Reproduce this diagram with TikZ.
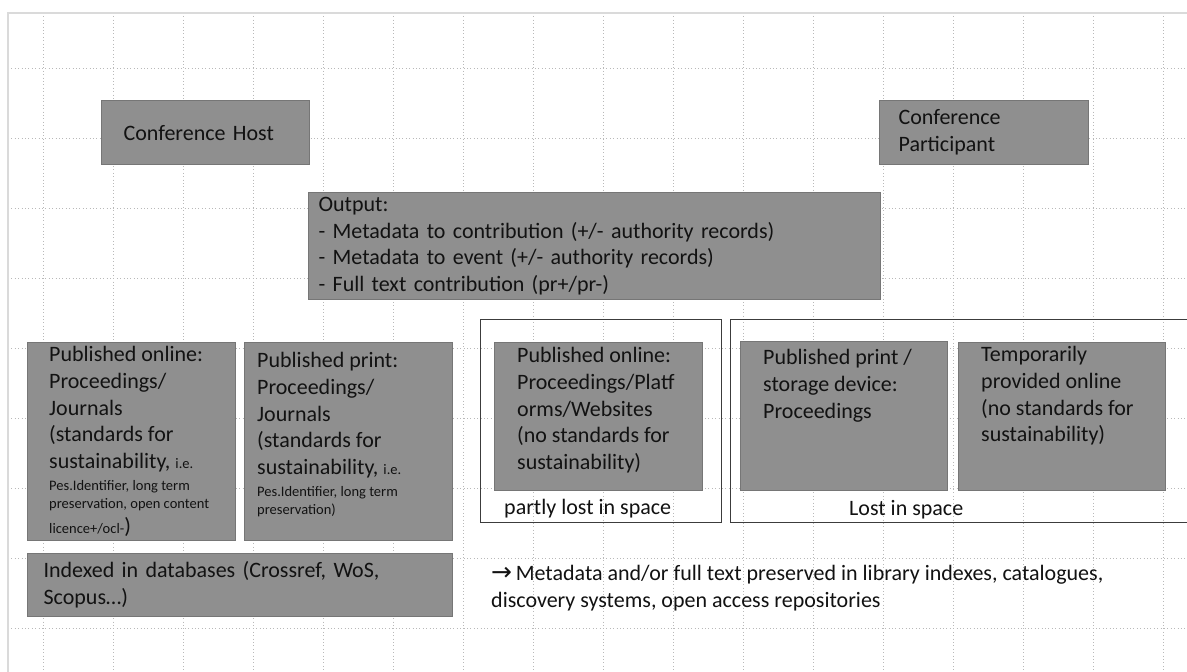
\documentclass[tikz,border=0pt]{standalone}
\usepackage{fontspec}
\setmainfont{Carlito}
\newfontfamily\arrowfont{DejaVu Sans}
\usepackage{xcolor}
\usepackage{tikz}
\usetikzlibrary{positioning}

\definecolor{boxfill}{RGB}{143,143,143}
\definecolor{boxline}{RGB}{118,118,118}
\definecolor{frameline}{RGB}{60,60,60}
\definecolor{ink}{RGB}{18,18,18}
\definecolor{gridgray}{RGB}{185,185,185}
\definecolor{slideedge}{RGB}{218,218,218}

\newcommand{\boxfont}{\fontsize{22}{26.8}\selectfont}
\newcommand{\notefont}{\fontsize{14.5}{18}\selectfont}

\begin{document}
\begin{tikzpicture}[
    x=1pt, y=-1pt,
    font=\boxfont, text=ink,
    greybox/.style={rectangle, draw=boxline, fill=boxfill, line width=1.2pt, inner sep=0pt, anchor=north west},
    labelbox/.style={greybox, align=left},
    spaceframe/.style={rectangle, draw=frameline, line width=1pt, inner sep=0pt, anchor=north west},
    boxtext/.style={align=left, inner sep=0pt},
    gridline/.style={gridgray, line width=0.6pt, dash pattern=on 0.8pt off 2.6pt}
]

% Slide and grid
\useasboundingbox (0,0) rectangle (1187,672);
\fill[white] (0,0) rectangle (1187,672);
\foreach \gx in {43,113,...,1163} \draw[gridline] (\gx,13) -- (\gx,672);
\foreach \gy in {68,138,...,628} \draw[gridline] (8,\gy) -- (1187,\gy);
\draw[slideedge, line width=1.5pt] (8,672) -- (8,13) -- (1187,13);

% Host and participant
\node[labelbox, text width=164pt, inner xsep=22pt, minimum height=64pt] (host) at (101,100) {Conference Host};
\node[labelbox, text width=171pt, inner xsep=19pt, minimum height=64pt] (participant) at (879,100) {Conference\\ Participant};

% Output of the conference
\node[labelbox, text width=552pt, inner xsep=10pt, minimum height=107pt] (output) at (308,192) {Output:\\ - Metadata to contribution (+/- authority records)\\ - Metadata to event (+/- authority records)\\ - Full text contribution (pr+/pr-)};

% Published with standards
\node[greybox, minimum width=208pt, minimum height=198pt] (online) at (27,342) {};
\node[boxtext, below right=4pt and 22pt of online.north west] (onlinetext) {Published online:\\ Proceedings/\\ Journals\\ (standards for\\ sustainability, {\notefont i.e.}\\[-5pt] {\notefont Pes.Identifier, long term}\\[-9pt] {\notefont preservation, open content}\\[-2pt] {\notefont licence+/ocl-})};
\node[greybox, minimum width=208pt, minimum height=198pt] (print) at (244,342) {};
\node[boxtext, below right=10pt and 13pt of print.north west] (printtext) {Published print:\\ Proceedings/\\ Journals\\ (standards for\\ sustainability, {\notefont i.e.}\\[-5pt] {\notefont Pes.Identifier, long term}\\[-9pt] {\notefont preservation)}};
\node[labelbox, text width=393pt, inner xsep=16pt, minimum height=63pt] (indexed) at (27,553) {Indexed in databases (Crossref, WoS,\\ Scopus…)};

% Partly lost
\node[spaceframe, minimum width=241pt, minimum height=203pt] (partlyframe) at (480,319) {};
\node[greybox, minimum width=208pt, minimum height=148pt] (partlyonline) at (494,342) {};
\node[boxtext, below right=5pt and 23pt of partlyonline.north west] (partlytext) {Published online:\\ Proceedings/Platf\\ orms/Websites\\ (no standards for\\ sustainability)};
\node[boxtext, below right=8pt and 10pt of partlyonline.south west] (partlylabel) {partly lost in space};

% Lost
\node[spaceframe, minimum width=470pt, minimum height=203pt] (lostframe) at (730,319) {};
\node[greybox, minimum width=207pt, minimum height=149pt] (storage) at (740,341) {};
\node[boxtext, below right=8pt and 23pt of storage.north west] (storagetext) {Published print /\\ storage device:\\ Proceedings};
\node[greybox, minimum width=207pt, minimum height=148pt] (temporary) at (958,342) {};
\node[boxtext, below right=4pt and 23pt of temporary.north west] (temporarytext) {Temporarily\\ provided online\\ (no standards for\\ sustainability)};
\node[boxtext, below right=9pt and 109pt of storage.south west] (lostlabel) {Lost in space};

% Preserved anyway
\node[boxtext, below right=42pt and 11pt of partlyframe.south west] (preserved) {{\arrowfont\fontsize{25}{26.8}\selectfont →}\,Metadata and/or full text preserved in library indexes, catalogues,\\ discovery systems, open access repositories};

\end{tikzpicture}
\end{document}
